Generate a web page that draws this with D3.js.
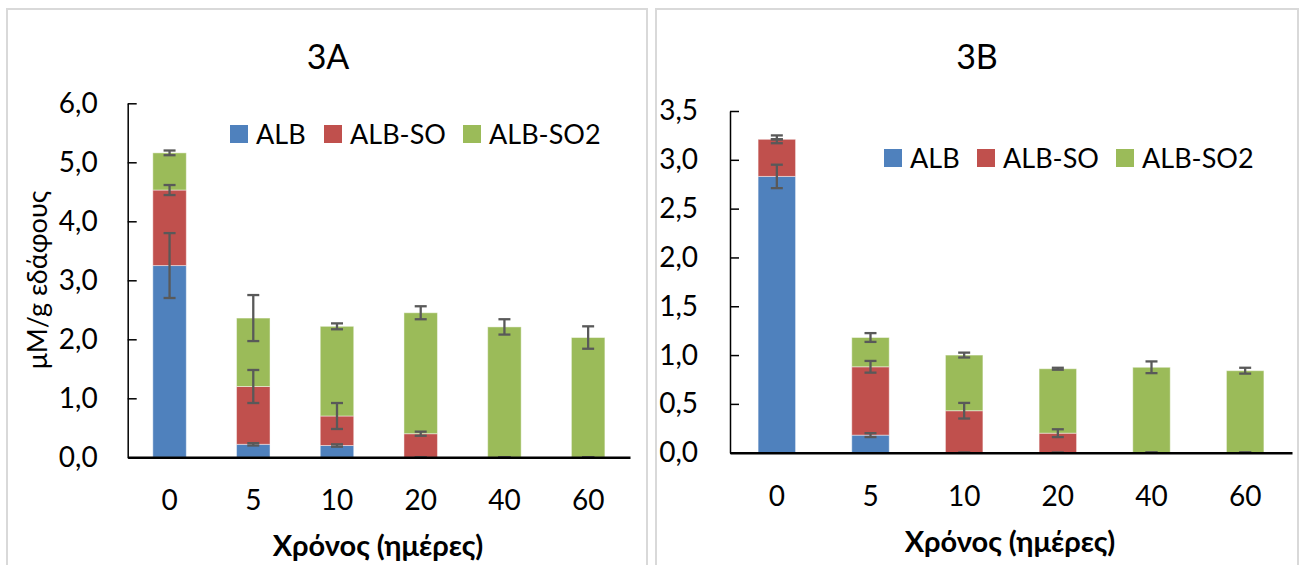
<!DOCTYPE html>
<html>
<head>
<meta charset="utf-8">
<script src="https://cdn.jsdelivr.net/npm/d3@7"></script>
<style>
  body { margin: 0; background: #fff; }
  svg { display: block; font-family: Lato, "Open Sans", sans-serif; }
</style>
</head>
<body>
<div id="chart"></div>
<script>
// categories and series
const days = ['0', '5', '10', '20', '40', '60'];
const seriesNames = ['ALB', 'ALB-SO', 'ALB-SO2'];
const seriesColors = ['#4F81BD', '#C0504D', '#9BBB59'];

// 3A values
const a_alb     = [3.25, 0.22, 0.20, 0.00, 0.00, 0.00];
const a_albSo   = [1.28, 0.98, 0.50, 0.40, 0.00, 0.00];
const a_albSo2  = [0.63, 1.16, 1.52, 2.05, 2.21, 2.03];
const a_albErr    = [0.55, 0.02, 0.02, 0, 0, 0];
const a_albSoErr  = [0.085, 0.28, 0.22, 0.035, 0, 0];
const a_albSo2Err = [0.04, 0.39, 0.05, 0.11, 0.13, 0.19];
const a_yTicks = [0, 1, 2, 3, 4, 5, 6];

// 3B values
const b_alb     = [2.83, 0.18, 0.00, 0.00, 0.00, 0.00];
const b_albSo   = [0.38, 0.70, 0.43, 0.20, 0.00, 0.00];
const b_albSo2  = [0.00, 0.30, 0.57, 0.66, 0.875, 0.84];
const b_albErr    = [0.12, 0.02, 0, 0, 0, 0];
const b_albSoErr  = [0.04, 0.06, 0.08, 0.04, 0, 0];
const b_albSo2Err = [0, 0.045, 0.025, 0.01, 0.06, 0.03];
const b_yTicks = [0, 0.5, 1, 1.5, 2, 2.5, 3, 3.5];

const yLabel = 'μM/g εδάφους';
const xLabel = 'Χρόνος (ημέρες)';

const comma = d3.formatLocale({decimal: ',', thousands: '.', grouping: [3], currency: ['', '']}).format('.1f');

const svg = d3.select('#chart').append('svg')
  .attr('width', 1300)
  .attr('height', 565);

// panel frames
svg.append('rect').attr('x', 7).attr('y', 9).attr('width', 640).attr('height', 570)
  .attr('fill', 'none').attr('stroke', '#d9d9d9').attr('stroke-width', 2);
svg.append('rect').attr('x', 656).attr('y', 9).attr('width', 642).attr('height', 570)
  .attr('fill', 'none').attr('stroke', '#d9d9d9').attr('stroke-width', 2);

function drawPanel(p) {
  const g = svg.append('g');
  const values = [p.alb, p.albSo, p.albSo2];
  const errs = [p.albErr, p.albSoErr, p.albSo2Err];

  const rows = days.map((d, j) => {
    const r = {day: d};
    seriesNames.forEach((s, i) => r[s] = values[i][j]);
    return r;
  });
  const stacked = d3.stack().keys(seriesNames)(rows);

  const x = d3.scaleBand().domain(days).range([p.x0, p.x1]).paddingInner(0.6).paddingOuter(0.3);
  const y = d3.scaleLinear().domain([0, p.yMax]).range([p.y0, p.y1]);

  // bars
  stacked.forEach((layer, i) => {
    g.append('g').selectAll('rect')
      .data(layer)
      .join('rect')
        .attr('x', d => x(d.data.day))
        .attr('width', x.bandwidth())
        .attr('y', d => y(d[1]))
        .attr('height', d => y(d[0]) - y(d[1]))
        .attr('fill', seriesColors[i])
        .attr('stroke', 'rgba(255,255,255,0.45)')
        .attr('stroke-width', 1);
  });

  // error bars at the top of each stacked segment
  const eb = g.append('g').attr('stroke', '#595959').attr('stroke-width', 2.3);
  stacked.forEach((layer, i) => {
    layer.forEach((d, j) => {
      const cx = x(d.data.day) + x.bandwidth() / 2;
      const e = errs[i][j];
      const top = y(d[1] + e), bot = y(Math.max(d[1] - e, 0));
      if (e > 0) eb.append('line').attr('x1', cx).attr('x2', cx).attr('y1', top).attr('y2', bot);
      eb.append('line').attr('x1', cx - 6).attr('x2', cx + 6).attr('y1', top).attr('y2', top);
      eb.append('line').attr('x1', cx - 6).attr('x2', cx + 6).attr('y1', bot).attr('y2', bot);
    });
  });

  // y axis, ticks inside
  const yAxis = g.append('g')
    .attr('transform', `translate(${p.x0},0)`)
    .call(d3.axisLeft(y).tickValues(p.yTicks).tickFormat(comma)
      .tickSizeInner(-9).tickSizeOuter(0).tickPadding(p.tickPad));
  yAxis.select('.domain').attr('stroke', '#000').attr('stroke-width', 1.5);
  yAxis.selectAll('.tick line').attr('stroke', '#000').attr('stroke-width', 1.5);
  yAxis.selectAll('text').attr('font-size', 28).attr('fill', '#000').attr('font-family', 'Lato');

  // x axis
  const xAxis = g.append('g')
    .attr('transform', `translate(0,${p.y0})`)
    .call(d3.axisBottom(x).tickSize(0).tickPadding(33));
  xAxis.select('.domain').attr('stroke', '#000').attr('stroke-width', 2.5);
  xAxis.selectAll('text').attr('font-size', 28).attr('fill', '#000').attr('font-family', 'Lato');

  // x axis title
  g.append('text')
    .attr('x', p.xTitleX).attr('y', p.y0 + 99)
    .attr('text-anchor', 'middle')
    .attr('font-size', 29).attr('font-weight', 'bold')
    .text(xLabel);

  // chart title
  g.append('text')
    .attr('x', p.titleX).attr('y', 69)
    .attr('text-anchor', 'middle')
    .attr('font-size', 34)
    .text(p.title);

  // y axis title (only 3A)
  if (p.showYLabel) {
    g.append('text')
      .attr('text-anchor', 'middle')
      .attr('transform', `translate(47,280) rotate(-90)`)
      .attr('font-size', 27)
      .text(yLabel);
  }

  // legend
  seriesNames.forEach((s, i) => {
    const lx = p.legendX[i];
    g.append('rect').attr('x', lx).attr('y', p.legendY - 9).attr('width', 18).attr('height', 18)
      .attr('fill', seriesColors[i]);
    g.append('text').attr('x', lx + 26).attr('y', p.legendY + 10)
      .attr('font-size', 27).text(s);
  });
}

drawPanel({
  alb: a_alb, albSo: a_albSo, albSo2: a_albSo2,
  albErr: a_albErr, albSoErr: a_albSoErr, albSo2Err: a_albSo2Err,
  yTicks: a_yTicks, yMax: 6,
  x0: 127.7, x1: 630, y0: 457.3, y1: 103.3, tickPad: 30,
  title: '3A', titleX: 328, xTitleX: 378, showYLabel: true,
  legendX: [230, 324, 463], legendY: 134
});

drawPanel({
  alb: b_alb, albSo: b_albSo, albSo2: b_albSo2,
  albErr: b_albErr, albSoErr: b_albSoErr, albSo2Err: b_albSo2Err,
  yTicks: b_yTicks, yMax: 3.5,
  x0: 730, x1: 1292, y0: 452.7, y1: 111, tickPad: 32,
  title: '3B', titleX: 977, xTitleX: 1010, showYLabel: false,
  legendX: [884, 977, 1116], legendY: 158
});
</script>
</body>
</html>
